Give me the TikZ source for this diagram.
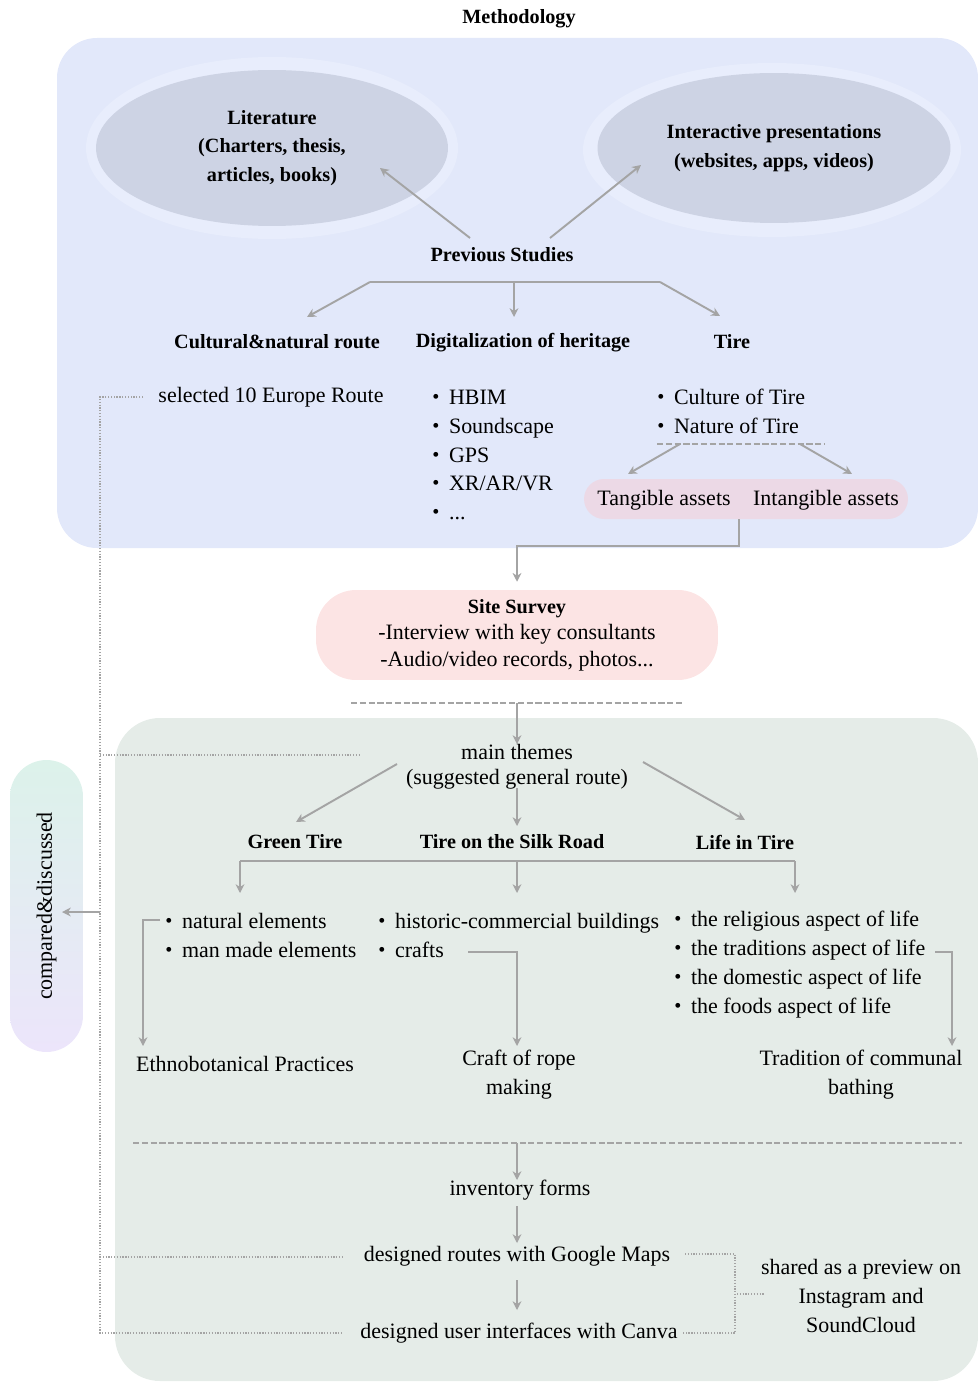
\documentclass[tikz,border=0pt]{standalone}
\usepackage{fontspec}
\setmainfont{Liberation Serif}
\usetikzlibrary{arrows.meta,shapes.geometric}

\definecolor{boxblue}{HTML}{E2E8FA}
\definecolor{halo}{HTML}{E8EDFC}
\definecolor{ellfill}{HTML}{CDD3E4}
\definecolor{assetpink}{HTML}{ECD9E6}
\definecolor{sitepink}{HTML}{FCE4E4}
\definecolor{greenbox}{HTML}{E5ECE8}
\definecolor{pilltop}{HTML}{DCF2EA}
\definecolor{pillbot}{HTML}{ECE5FB}
\definecolor{lgray}{HTML}{A4A4A4}

\newcommand{\bul}{\makebox[9.5pt][l]{\raisebox{.1ex}{\fontsize{11.5}{11.5}\selectfont\textbullet}}}

\begin{document}
\begin{tikzpicture}[x=0.02cm,y=-0.02cm,
    every node/.style={inner sep=0pt},
    txt/.style={font=\fontsize{12.5}{16.4}\selectfont},
    hd/.style={font=\bfseries\fontsize{11.5}{16.4}\selectfont},
    ell/.style={ellipse,fill=ellfill,align=center,hd},
    ln/.style={draw=lgray,line width=1.1pt},
    arr/.style={ln,-{Stealth[length=5pt,width=5pt]}},
    dots/.style={draw=lgray,line width=1.1pt,dash pattern=on 0.7pt off 0.9pt},
    dashln/.style={draw=lgray,line width=1.1pt,dash pattern=on 3.5pt off 1.5pt},
    pill/.style={rounded corners=0.73cm,minimum width=1.46cm,minimum height=5.84cm,
        top color=pilltop,bottom color=pillbot}]
    \useasboundingbox (0,0) rectangle (977,1382);

    % backgrounds
    \fill[boxblue,rounded corners=0.8cm] (57,38) rectangle (978,548);
    \fill[greenbox,rounded corners=0.9cm] (115,718) rectangle (978,1381);
    \fill[halo] (272,148) ellipse (186 and 91);
    \fill[halo] (772,150) ellipse (189 and 87);

    \node[hd] (title) at (519,19) {Methodology};

    % previous studies
    \node[ell,minimum width=7.04cm,minimum height=3.12cm] (lit) at (272,148)
        {Literature\\(Charters, thesis,\\articles, books)};
    \node[ell,minimum width=7.06cm,minimum height=3cm] (inter) at (774,148)
        {Interactive presentations\\(websites, apps, videos)};
    \node[hd] (prev) at (502,255) {Previous Studies};
    \coordinate (litin) at (380,168);
    \coordinate (interin) at (641,165);
    \draw[arr] (470,238) -- (litin);
    \draw[arr] (550,238) -- (interin);

    \node[hd] (cnr) at (277,342) {Cultural\&natural route};
    \node[hd] (dig) at (523,343) {Digitalization of heritage};
    \node[hd] (tire) at (732,342) {Tire};
    \draw[ln] (370,282) -- (660,282);
    \draw[arr] (370,282) -- (307,317);
    \draw[arr] (514,282) -- (514,317);
    \draw[arr] (660,282) -- (720,316);

    \node[txt] (sel) at (271,397) {selected 10 Europe Route};
    \node[txt,align=left,anchor=west] (diglist) at (432,455)
        {\bul HBIM\\\bul Soundscape\\\bul GPS\\\bul XR/AR/VR\\\bul ...};
    \node[txt,align=left,anchor=west] (tirelist) at (657,411)
        {\bul Culture of Tire\\\bul Nature of Tire};
    \draw[dashln] (657,444) -- (825,444);
    \draw[arr] (680,444) -- (628,474);
    \draw[arr] (800,444) -- (852,474);
    \node[fill=assetpink,rounded corners=0.4cm,minimum width=6.48cm,minimum height=0.8cm] (assets) at (746,499) {};
    \node[txt] (tang) at (664,500) {Tangible assets};
    \node[txt] (intang) at (826,500) {Intangible assets};

    % site survey
    \node[txt,fill=sitepink,rounded corners=0.8cm,minimum width=8.04cm,minimum height=1.8cm,
        align=center,font=\fontsize{12.5}{15}\selectfont] (site) at (517,635)
        {{\bfseries\fontsize{11.5}{15}\selectfont Site Survey}\\-Interview with key consultants\\-Audio/video records, photos...};
    \draw[arr,shorten >=4.5pt] (739,519) -- ++(0,27) -| (site.north);
    \draw[dashln] (351,703) -- (684,703);
    \draw[arr] (517,703) -- (517,744);

    % main themes
    \node[txt,align=center,font=\fontsize{12.5}{14.5}\selectfont] (mt) at (517,767)
        {main themes\\(suggested general route)};
    \node[hd] (green) at (295,842) {Green Tire};
    \node[hd] (silk) at (512,842) {Tire on the Silk Road};
    \node[hd] (life) at (745,842) {Life in Tire};
    \draw[arr] (397,764) -- (296,822);
    \draw[arr] (517,788) -- (517,826);
    \draw[arr] (643,762) -- (745,820);
    \draw[ln] (240,861) -- (795,861);
    \draw[arr] (240,861) -- (240,893);
    \draw[arr] (517,861) -- (517,893);
    \draw[arr] (795,861) -- (795,893);

    \node[txt,align=left,anchor=west] (greenlist) at (165,935.5)
        {\bul natural elements\\\bul man made elements};
    \node[txt,align=left,anchor=west] (silklist) at (378,935.5)
        {\bul historic-commercial buildings\\\bul crafts};
    \node[txt,align=left,anchor=west] (lifelist) at (674,964.5)
        {\bul the religious aspect of life\\\bul the traditions aspect of life\\\bul the domestic aspect of life\\\bul the foods aspect of life};

    \node[txt] (ethno) at (245,1064) {Ethnobotanical Practices};
    \node[txt,align=center] (rope) at (519,1075) {Craft of rope\\making};
    \node[txt,align=center] (bath) at (861,1075) {Tradition of communal\\bathing};
    \draw[arr] (160,920) -- (143,920) -- (143,1046);
    \draw[arr] (468,952) -- (517,952) -- (517,1046);
    \draw[arr] (935,952) -- (952,952) -- (952,1046);

    % outputs
    \draw[dashln] (133,1143) -- (962,1143);
    \node[txt] (inv) at (520,1190) {inventory forms};
    \node[txt] (gmaps) at (517,1256) {designed routes with Google Maps};
    \node[txt] (canva) at (519,1333) {designed user interfaces with Canva};
    \node[txt,align=center] (shared) at (861,1296) {shared as a preview on\\Instagram and\\SoundCloud};
    \draw[arr] (517,1143) -- (517,1180);
    \draw[arr] (517,1206) -- (517,1243);
    \draw[arr] (517,1280) -- (517,1310);

    % comparison
    \node[pill] (cd) at (46.5,906) {\rotatebox{90}{\fontsize{12.5}{15}\selectfont compared\&discussed}};
    \draw[dots] (143,397) -- (100,397) -- (100,1333) -- (343,1333);
    \draw[dots] (100,755) -- (360,755);
    \draw[dots] (100,1257) -- (343,1257);
    \draw[dots] (685,1254) -- (735,1254) -- (735,1333) -- (683,1333);
    \draw[dots] (737,1294) -- (765,1294);
    \draw[arr] (100,912) -- (62,912);
\end{tikzpicture}
\end{document}
